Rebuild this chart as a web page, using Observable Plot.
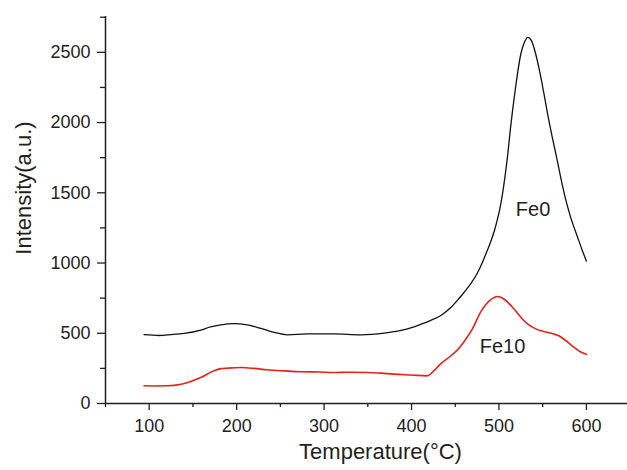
<!DOCTYPE html>
<html>
<head>
<meta charset="utf-8">
<script src="https://cdn.jsdelivr.net/npm/d3@7"></script>
<script src="https://cdn.jsdelivr.net/npm/@observablehq/plot@0.6"></script>
<style>
  html, body { margin: 0; padding: 0; background: #fff; }
  #chart { width: 627px; height: 470px; }
</style>
</head>
<body>
<div id="chart"></div>
<script>
// Fe0 (black) series: temperature (°C) and intensity (a.u.)
const fe0Temp = [94,100,111,125,140,159,170,182,197,212,228,243,258,281,311,342,369,388,400,411,422,434,443,452,460,468,475,481,486,491,495,498,501,504,507,510,513,519,525,529,533,537,542,547,551.5,556,561,566,570.6,576,582,590,595,600];
const fe0Int  = [491,489,484,490,499,523,545,560,568,560,534,506,489,496,496,489,501,520,540,565,592,628,672,731,790,855,925,1004,1080,1159,1235,1305,1385,1490,1620,1770,1950,2251,2488,2570,2607,2585,2488,2350,2204,2050,1895,1750,1610,1460,1325,1182,1095,1013];

// Fe10 (red) series
const fe10Temp = [94,105,121,135,144,159,174,182,190,205,220,235,255,273,295,311,330,350,365,380,400,418,426,433,445,452,460,470,479,489,494,498,502,506,511,516,521,527,533,541,548,556,563,569,574,580,586,592,600];
const fe10Int  = [126,125,126,135,150,185,233,248,252,256,250,240,232,226,224,221,222,221,216,209,203,197,236,280,340,378,440,535,650,731,752,762,757,742,715,682,645,600,565,535,518,505,494,480,459,430,399,372,350];

// Ticks
const xTicks = [100,200,300,400,500,600];
const xMinor = [50,150,250,350,450,550];
const yTicks = [0,500,1000,1500,2000,2500];
const yMinor = [250,750,1250,1750,2250,2750];

// Labels
const seriesNames = ["Fe0", "Fe10"];
const labelX = [539, 504];
const labelY = [1380, 405];
const xTitle = "Temperature(°C)";
const yTitle = "Intensity(a.u.)";

const fe0 = fe0Temp.map((t, i) => ({t, v: fe0Int[i]}));
const fe10 = fe10Temp.map((t, i) => ({t, v: fe10Int[i]}));
const labels = seriesNames.map((name, i) => ({name, x: labelX[i], y: labelY[i]}));

const ink = "#231f20";
const plain = d => String(d);

const chart = Plot.plot({
  width: 627,
  height: 470,
  marginLeft: 105,
  marginRight: 0,
  marginTop: 16,
  marginBottom: 67,
  x: {domain: [50, 647]},
  y: {domain: [0, 2755]},
  style: {fontFamily: "'Liberation Sans', Arial, Helvetica, sans-serif", color: ink, background: "#fff"},
  marks: [
    Plot.axisX({ticks: xTicks, tickSize: 7, tickPadding: 9, fontSize: 18, tickFormat: plain, label: null, strokeWidth: 1.3}),
    Plot.axisX({ticks: xMinor, tickSize: 4, tickFormat: () => "", label: null, strokeWidth: 1.3}),
    Plot.axisY({ticks: yTicks, tickSize: 8, tickPadding: 7, fontSize: 18, tickFormat: plain, label: null, strokeWidth: 1.3}),
    Plot.axisY({ticks: yMinor, tickSize: 5, tickFormat: () => "", label: null, strokeWidth: 1.3}),
    Plot.ruleX([50], {stroke: ink, strokeWidth: 1.5}),
    Plot.ruleY([0], {stroke: ink, strokeWidth: 1.5}),
    Plot.line(fe0, {x: "t", y: "v", stroke: "#111", strokeWidth: 1.3, curve: "monotone-x"}),
    Plot.line(fe10, {x: "t", y: "v", stroke: "#e4221c", strokeWidth: 1.6, curve: "monotone-x"}),
    Plot.text(labels, {x: "x", y: "y", text: "name", fontSize: 20, fill: ink}),
    Plot.text([xTitle], {frameAnchor: "bottom", textAnchor: "middle", dx: 14, dy: 55, fontSize: 22, fill: ink}),
    Plot.text([yTitle], {frameAnchor: "left", textAnchor: "middle", rotate: -90, dx: -82, dy: -22, fontSize: 22, fill: ink})
  ]
});

document.getElementById("chart").appendChild(chart);
</script>
</body>
</html>
